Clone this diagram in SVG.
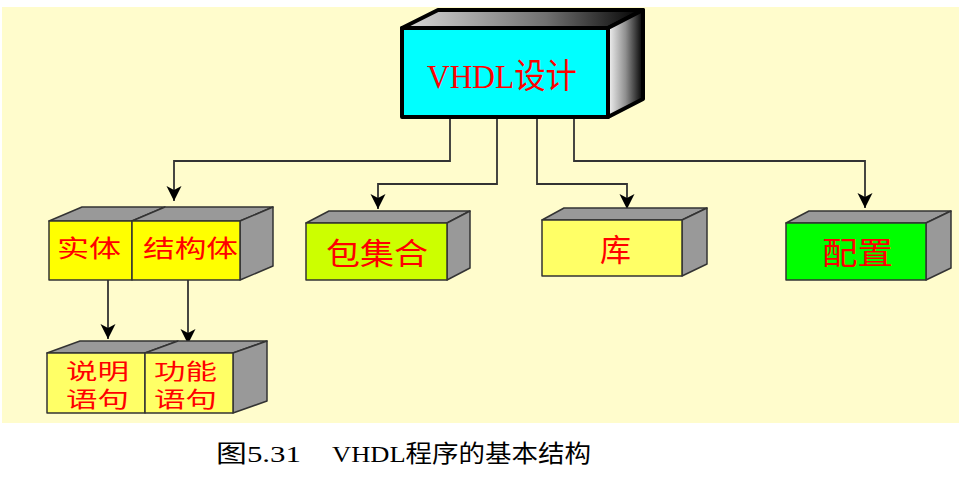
<svg xmlns="http://www.w3.org/2000/svg" width="973" height="497" viewBox="0 0 973 497">
<defs>
  <linearGradient id="gTop" x1="0" y1="0" x2="1" y2="0">
    <stop offset="0" stop-color="#d8d8d8"/>
    <stop offset="0.6" stop-color="#707070"/>
    <stop offset="1" stop-color="#000"/>
  </linearGradient>
  <linearGradient id="gRight" x1="0" y1="0" x2="1" y2="0">
    <stop offset="0" stop-color="#f4f4f4"/>
    <stop offset="0.5" stop-color="#909090"/>
    <stop offset="1" stop-color="#000"/>
  </linearGradient>
  <marker id="arr" markerUnits="userSpaceOnUse" markerWidth="20" markerHeight="20" viewBox="-2 -10 20 20" refX="15" refY="0" orient="auto">
    <path d="M0,-7.5 L15,0 L0,7.5 L4,0 z" fill="#000"/>
  </marker>
</defs>
<style>
  .face { stroke: #333; stroke-width: 1.5; stroke-linejoin: round; }
  .side { fill: #999; stroke: #333; stroke-width: 1.5; stroke-linejoin: round; }
  .lbl { fill: #ff0000; font-family: "Liberation Serif", "Noto Sans CJK SC", serif; dominant-baseline: central; }
  .conn { fill: none; stroke: #333; stroke-width: 1.8; }
  .main { stroke: #000; stroke-width: 4; stroke-linejoin: round; }
</style>
<rect x="2" y="7" width="957" height="416" fill="#fffccc"/>

<g id="connectors">
  <path class="conn" d="M450,119 V161 H174 V201" marker-end="url(#arr)"/>
  <path class="conn" d="M497,119 V184 H378 V209" marker-end="url(#arr)"/>
  <path class="conn" d="M537,119 V184 H627 V209" marker-end="url(#arr)"/>
  <path class="conn" d="M574,119 V161 H865 V208" marker-end="url(#arr)"/>
  <path class="conn" d="M108,280 V339" marker-end="url(#arr)"/>
  <path class="conn" d="M188,280 V344" marker-end="url(#arr)"/>
</g>

<g id="vhdl-design">
  <polygon class="main" points="402,28 438,10 643,10 608,28" fill="url(#gTop)"/>
  <polygon class="main" points="608,28 643,10 643,99 608,117" fill="url(#gRight)"/>
  <rect class="main" x="402" y="28" width="206" height="89" fill="#00ffff"/>
  <text class="lbl" x="427" y="76" font-size="34" textLength="150" lengthAdjust="spacingAndGlyphs">VHDL设计</text>
</g>

<g id="entity">
  <polygon class="side" points="49,221 82,207 165,207 132,221"/>
  <rect class="face" x="49" y="221" width="83" height="59" fill="#ffff00"/>
  <text class="lbl" x="57" y="249" font-size="24" textLength="64" lengthAdjust="spacingAndGlyphs">实体</text>
</g>
<g id="architecture">
  <polygon class="side" points="132,221 165,207 273,207 240,221"/>
  <polygon class="side" points="240,221 273,207 273,266 240,280"/>
  <rect class="face" x="132" y="221" width="108" height="59" fill="#ffff00"/>
  <text class="lbl" x="143" y="249" font-size="24" textLength="95" lengthAdjust="spacingAndGlyphs">结构体</text>
</g>

<g id="package">
  <polygon class="side" points="306,223 329,211 470,211 447,223"/>
  <polygon class="side" points="447,223 470,211 470,268 447,280"/>
  <rect class="face" x="306" y="223" width="141" height="57" fill="#ccff00"/>
  <text class="lbl" x="326" y="253" font-size="30" textLength="102" lengthAdjust="spacingAndGlyphs">包集合</text>
</g>

<g id="library">
  <polygon class="side" points="542,220 564,208 707,208 682,220"/>
  <polygon class="side" points="682,220 707,208 707,264 682,276"/>
  <rect class="face" x="542" y="220" width="140" height="56" fill="#ffff66"/>
  <text class="lbl" x="600" y="250.5" font-size="31" textLength="31" lengthAdjust="spacingAndGlyphs">库</text>
</g>

<g id="configuration">
  <polygon class="side" points="786,223 809,211 951,211 926,223"/>
  <polygon class="side" points="926,223 951,211 951,268 926,280"/>
  <rect class="face" x="786" y="223" width="140" height="57" fill="#00ff00"/>
  <text class="lbl" x="822" y="253.5" font-size="31" textLength="71" lengthAdjust="spacingAndGlyphs">配置</text>
</g>

<g id="declaration-statements">
  <polygon class="side" points="47,353 80,341 178,341 145,353"/>
  <rect class="face" x="47" y="353" width="98" height="60" fill="#ffff66"/>
  <text class="lbl" x="66" y="371" font-size="22" textLength="63" lengthAdjust="spacingAndGlyphs">说明</text>
  <text class="lbl" x="66" y="399" font-size="22" textLength="63" lengthAdjust="spacingAndGlyphs">语句</text>
</g>
<g id="function-statements">
  <polygon class="side" points="145,353 178,341 267,341 233,353"/>
  <polygon class="side" points="233,353 267,341 267,401 233,413"/>
  <rect class="face" x="145" y="353" width="88" height="60" fill="#ffff66"/>
  <text class="lbl" x="154" y="371" font-size="22" textLength="63" lengthAdjust="spacingAndGlyphs">功能</text>
  <text class="lbl" x="154" y="399" font-size="22" textLength="63" lengthAdjust="spacingAndGlyphs">语句</text>
</g>

<g id="caption" font-family="'Liberation Serif', 'Noto Sans CJK SC', serif" font-size="24" fill="#000">
  <text x="216" y="454" dominant-baseline="central" textLength="85" lengthAdjust="spacingAndGlyphs">图5.31</text>
  <text x="332" y="454" dominant-baseline="central" textLength="259" lengthAdjust="spacingAndGlyphs">VHDL程序的基本结构</text>
</g>
</svg>
